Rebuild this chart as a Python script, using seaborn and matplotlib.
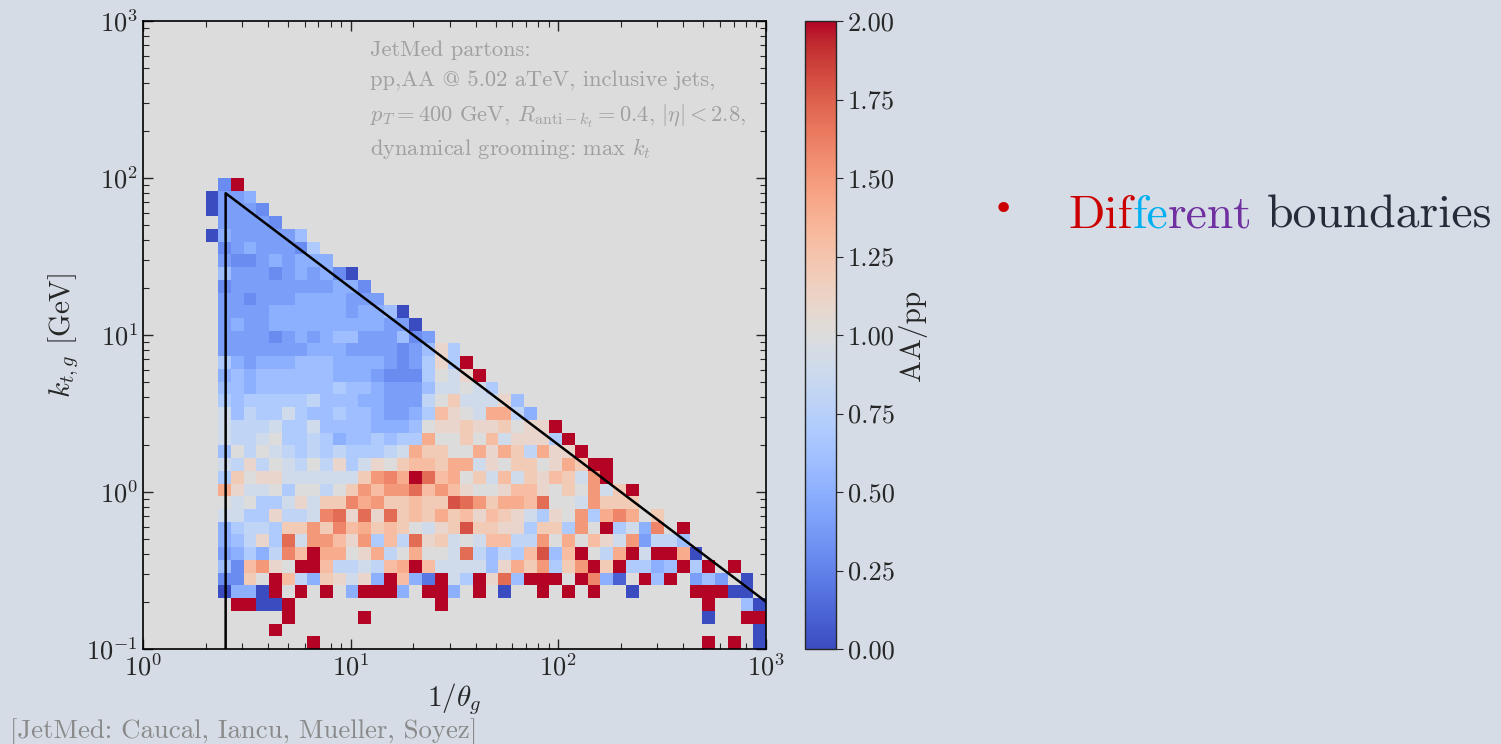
import numpy as np
import matplotlib
matplotlib.use('Agg')
import matplotlib.pyplot as plt
import seaborn as sns

# AA/pp ratio per cell, one string per kt row (top row = kt 100 GeV, bottom = 0.1 GeV),
# one char per 1/theta column (2 .. 1000). '0'..'K' -> 0.0..2.0 in steps of 0.1, '.' -> empty
ratio_rows = [
    ".3K",
    "0445",
    "04443",
    ".44443",
    "05444446",
    ".34544437",
    ".433454555",
    ".64443454530",
    ".344444444553",
    ".4434445555444",
    ".444455555545560",
    ".4544555555555440",
    ".44443454566444634",
    ".44444445554444346B7",
    ".75455566655554347B7K",
    ".56566666655543337A9BK",
    ".6656666667665444699A97",
    ".76777778666554448AC999B6",
    ".96877976676654457DBA9EE85",
    ".9888977966665556ABBCBBCABBK",
    ".9889A77875667677EAACAD9BBB7K",
    ".6A8A98787877789ECCAAEBEC8EBBK",
    ".98B8A98A8B79BACDDCEE9BACCABECKK",
    ".7CABB999999CFGEKHDEAC9D9CBDC9FK",
    ".EB99A7AA8ACFDFFHDFDBAABDDBACAF9CK",
    ".A9A779B9CCGEFCCDCCIHFCEEDHAA9FCCC",
    ".9977B889GHBHBHCDCECDBDCB97BAF7EGE.C",
    ".57887CCFCGDECDCA9BCICCBB7CC7FAK795G.K",
    ".568B7H9FFDBF7D8HBC9A9DD88FAEADB9F4886",
    ".45758GDKEEABE8AEAA9H8687DI6DKA8EK9KKE0",
    ".63DFBAKKD8898DEKD99996BECF7CFKCK7756K7K.K",
    ".33CAKD85CB9B5KD52K97KBH6KKK.KG51.K6K.464.0",
    ".0550K.K.K.5KKK5.KK5.K.0..K.K.K..0....KKK00.",
    "..KK00K...........K....................K..60",
    "......K.....K..........................0..KK",
    ".....K.....................................0",
    "........K..............................K.K.0",
]
level_chars = "0123456789ABCDEFGHIJK"

n_theta_bins = 44
n_kt_bins = 37
theta_edges = np.logspace(np.log10(2), 3, n_theta_bins + 1)
kt_edges = np.logspace(-1, 2, n_kt_bins + 1)

# phase-space boundary: theta < R and kt < z_max * pT * theta
boundary_x = [2.5, 2.5, 1000]
boundary_y = [0.1, 80, 0.2]

annotation_lines = [
    "JetMed partons:",
    "pp,AA @ 5.02 aTeV, inclusive jets,",
    r"$p_T = 400$ GeV, $R_{\mathrm{anti}-k_t} = 0.4$, $|\eta| < 2.8$,",
    r"dynamical grooming: max $k_t$",
]
annotation_baselines = [56, 87, 121, 155]

cbar_ticks = [0.0, 0.25, 0.5, 0.75, 1.0, 1.25, 1.5, 1.75, 2.0]

title_parts = ["Dif", "fe", "rent", " boundaries"]
title_colors = ["#cc0000", "#00b0f0", "#7030a0", "#262b3a"]

# build the grid
grid = np.full((n_kt_bins, n_theta_bins), np.nan)
for i, row in enumerate(ratio_rows):
    for j, ch in enumerate(row.ljust(n_theta_bins, '.')):
        if ch != '.':
            grid[i, j] = level_chars.index(ch) / 10.0
grid = np.ma.masked_invalid(grid[::-1])

sns.set_style("ticks")
plt.rcParams.update({
    'font.family': 'serif',
    'font.serif': ['cmr10'],
    'mathtext.fontset': 'cm',
    'axes.unicode_minus': False,
    'axes.formatter.use_mathtext': True,
})

bg = '#d5dce6'
fig = plt.figure(figsize=(15.01, 7.44), dpi=100, facecolor=bg)
W, H = 1501, 744
ax = fig.add_axes([143 / W, 1 - 649 / H, 623 / W, 628 / H])
cax = fig.add_axes([805 / W, 1 - 649 / H, 31 / W, 628 / H])
ax.set_facecolor('#dcdcdc')

ax.set_xscale('log')
ax.set_yscale('log')
mesh = ax.pcolormesh(theta_edges, kt_edges, grid, cmap='coolwarm', vmin=0, vmax=2,
                     shading='flat', edgecolors='none', antialiased=False)
sns.lineplot(x=boundary_x, y=boundary_y, sort=False, estimator=None,
             color='black', lw=1.8, ax=ax)

ax.set_xlim(1, 1000)
ax.set_ylim(0.1, 1000)
ax.set_xlabel(r"$1/\theta_g$", fontsize=21, labelpad=0)
ax.set_ylabel(r"$k_{t,g}$ [GeV]", fontsize=21, labelpad=4)
ax.tick_params(which='both', direction='in', top=True, right=True, labelsize=19)
ax.tick_params(which='major', length=7, width=1.0)
ax.tick_params(which='minor', length=4, width=0.8)
for s in ax.spines.values():
    s.set_linewidth(1.2)
    s.set_color('black')

cb = fig.colorbar(mesh, cax=cax, ticks=cbar_ticks)
cb.ax.set_yticklabels([f"{t:.2f}" for t in cbar_ticks])
cb.ax.tick_params(labelsize=19, direction='out', length=5)
cb.set_label("AA/pp", fontsize=21, labelpad=2)
cb.outline.set_linewidth(1.0)

for line, yb in zip(annotation_lines, annotation_baselines):
    fig.text(370 / W, 1 - yb / H, line, fontsize=16.2, color='#a0a0a0', va='baseline')

# bullet + multicoloured heading
fig.text(1003 / W, 1 - 220 / H, "\u2022", fontsize=26, color='#cc0000',
         va='baseline', ha='center', family='DejaVu Sans')
prev = fig.text(1068 / W, 1 - 228 / H, title_parts[0], fontsize=34.3,
                color=title_colors[0], va='baseline')
for part, col in zip(title_parts[1:], title_colors[1:]):
    gap = 10 if part.startswith(' ') else 0
    prev = ax.annotate(part.strip(), xy=(1, 0), xycoords=prev, xytext=(gap, 0),
                       textcoords='offset points', fontsize=34.3, color=col,
                       va='bottom', ha='left', annotation_clip=False)

fig.text(10 / W, 1 - 738 / H, "[JetMed: Caucal, Iancu, Mueller, Soyez]",
         fontsize=19.3, color='#8a8a8a', va='baseline')

fig.savefig('out.png', dpi=100, facecolor=bg)
